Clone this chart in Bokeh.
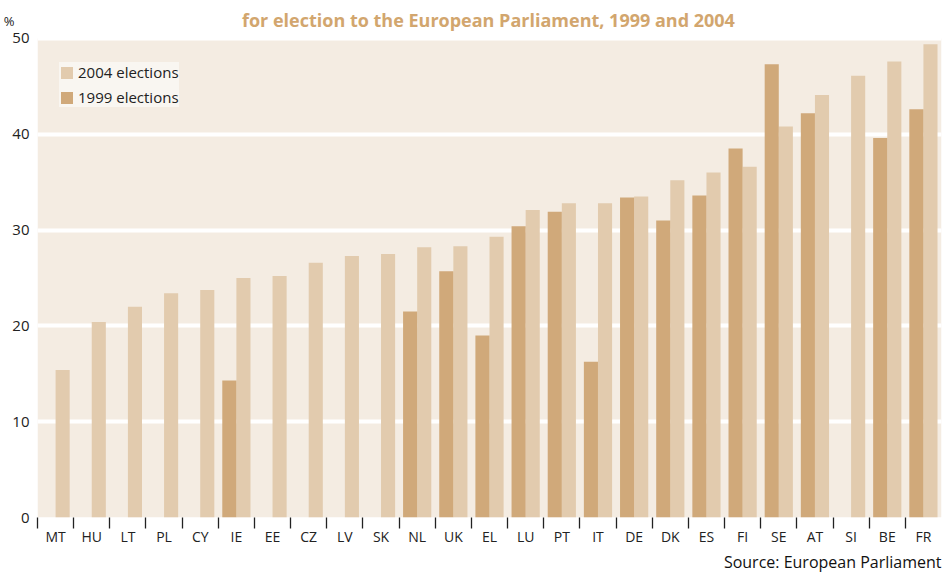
import numpy as np
from bokeh.plotting import figure
from bokeh.models import (Range1d, FixedTicker, Legend, LegendItem, Title, Label,
                          LinearAxis, BoxAnnotation, ColumnDataSource)
from bokeh.embed import file_html
from bokeh.resources import INLINE

countries = ["MT", "HU", "LT", "PL", "CY", "IE", "EE", "CZ", "LV", "SK", "NL", "UK", "EL",
             "LU", "PT", "IT", "DE", "DK", "ES", "FI", "SE", "AT", "SI", "BE", "FR"]
v2004 = [15.4, 20.4, 22.0, 23.4, 23.75, 25.0, 25.2, 26.6, 27.3, 27.5, 28.2, 28.3, 29.3,
         32.1, 32.8, 32.8, 33.5, 35.2, 36.0, 36.6, 40.8, 44.1, 46.1, 47.6, 49.4]
v1999 = [None, None, None, None, None, 14.3, None, None, None, None, 21.5, 25.7, 19.0,
         30.4, 31.9, 16.25, 33.4, 31.0, 33.6, 38.5, 47.3, 42.2, None, 39.6, 42.6]
y_ticks = [0, 10, 20, 30, 40, 50]
y_max = 50

BG = "#F4ECE2"
C04 = "#E2CBAE"
C99 = "#D0A97A"
TITLE_C = "#D2A66E"

n = len(countries)
idx = np.arange(n)
centers = idx + 0.5
bw = 0.39

# layout constants (pixels)
H, W = 573, 944
frame_bottom_px = 518
axis_top_px = 38
px_per_unit = (frame_bottom_px - axis_top_px) / y_max
y_top = frame_bottom_px / px_per_unit   # frame reaches the top of the canvas

src04 = ColumnDataSource(dict(x=centers + bw / 2, top=v2004))
i99 = [i for i in range(n) if v1999[i] is not None]
src99 = ColumnDataSource(dict(x=[centers[i] - bw / 2 for i in i99], top=[v1999[i] for i in i99]))

p = figure(width=W, height=H, output_backend="svg", toolbar_location=None,
           x_range=Range1d(0, n), y_range=Range1d(0, y_top),
           min_border_left=37, min_border_right=3, min_border_top=0,
           min_border_bottom=H - frame_bottom_px)
p.background_fill_color = "white"
p.border_fill_color = "white"
p.outline_line_color = None

# cream plotting area from 0 to 50 %
p.add_layout(BoxAnnotation(left=0, right=n, bottom=0, top=y_max, fill_color=BG,
                           fill_alpha=1.0, line_color=None, level="image"))

r04 = p.vbar(x="x", top="top", width=bw, source=src04, fill_color=C04, line_color=None)
r99 = p.vbar(x="x", top="top", width=bw, source=src99, fill_color=C99, line_color=None)

# x axis: labels at category centres, tick marks at category boundaries
p.xaxis.ticker = FixedTicker(ticks=list(centers), minor_ticks=list(idx.astype(float)))
p.xaxis.major_label_overrides = {float(c): lab for c, lab in zip(centers, countries)}
p.xaxis.axis_line_color = None
p.xaxis.major_tick_line_color = None
p.xaxis.major_tick_out = 0
p.xaxis.major_tick_in = 0
p.xaxis.minor_tick_line_color = "#222222"
p.xaxis.minor_tick_line_width = 1.3
p.xaxis.minor_tick_out = 11
p.xaxis.minor_tick_in = 0
p.xaxis.major_label_standoff = -2
p.xaxis.major_label_text_font = "Open Sans"
p.xaxis.major_label_text_font_size = "14px"
p.xaxis.major_label_text_color = "#222222"

p.yaxis.ticker = FixedTicker(ticks=y_ticks)
p.yaxis.axis_line_color = None
p.yaxis.major_tick_line_color = None
p.yaxis.minor_tick_line_color = None
p.yaxis.major_tick_out = 0
p.yaxis.major_label_standoff = 8
p.yaxis.major_label_text_font = "Open Sans"
p.yaxis.major_label_text_font_size = "15px"
p.yaxis.major_label_text_color = "#222222"

# "%" unit label: a second, outer left axis with one labelled tick above 50
pct_pos = 51.8
pct_axis = LinearAxis(ticker=FixedTicker(ticks=[pct_pos]),
                      major_label_overrides={pct_pos: "%"},
                      axis_line_color=None, major_tick_line_color=None,
                      minor_tick_line_color=None, major_tick_out=0, major_tick_in=0,
                      major_label_standoff=-5, major_label_text_font="Open Sans",
                      major_label_text_font_size="13px", major_label_text_color="#222222")
p.add_layout(pct_axis, "left")

p.xgrid.grid_line_color = None
p.ygrid.grid_line_color = "white"
p.ygrid.grid_line_width = 4

legend = Legend(items=[LegendItem(label="2004 elections", renderers=[r04]),
                       LegendItem(label="1999 elections", renderers=[r99])],
                location=(22, frame_bottom_px - 108), margin=0, padding=5, spacing=5,
                glyph_width=15, glyph_height=15, label_height=17, label_standoff=4,
                background_fill_color="#F9F6F1", background_fill_alpha=1.0,
                border_line_color=None, label_text_font="Open Sans",
                label_text_font_size="15px", label_text_color="#222222")
p.add_layout(legend)

# chart title, kept fully inside the canvas
title_baseline_px = 20
p.add_layout(Label(x=n / 2 - 0.03, y=y_max + (axis_top_px - title_baseline_px) / px_per_unit,
                   text="for election to the European Parliament, 1999 and 2004",
                   text_align="center", text_baseline="alphabetic", text_font="Open Sans",
                   text_font_style="bold", text_font_size="18px", text_color=TITLE_C))

source = Title(text="Source: European Parliament", align="right", standoff=1,
               text_font="Open Sans", text_font_style="normal",
               text_font_size="16px", text_color="#111111")
p.add_layout(source, "below")

open("out.html", "w").write(file_html(p, INLINE))
